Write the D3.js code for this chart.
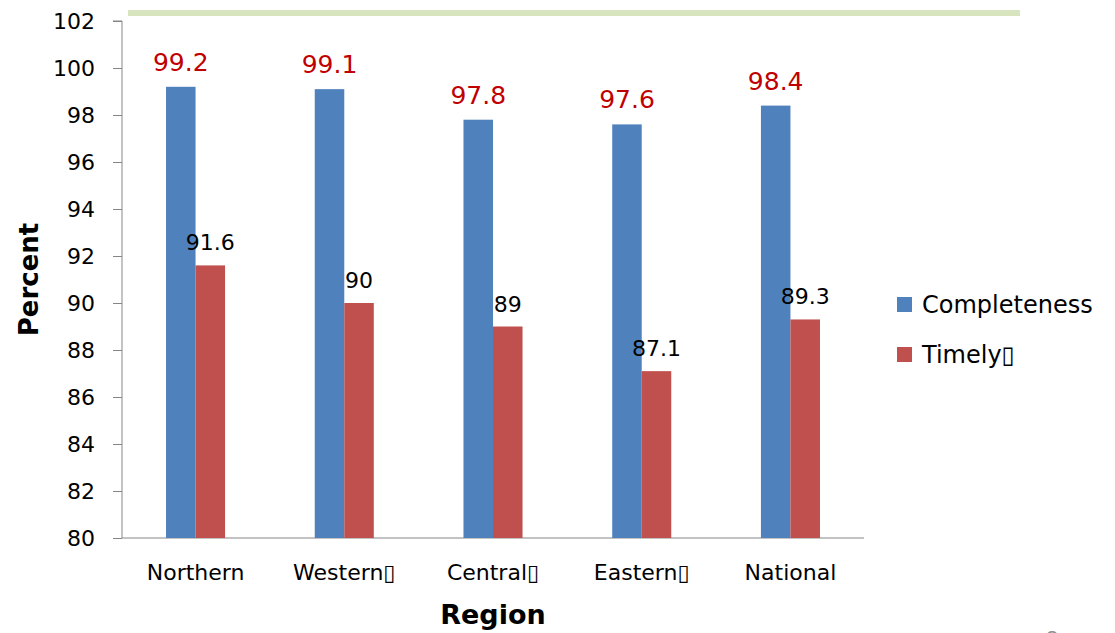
<!DOCTYPE html>
<html>
<head>
  <meta charset="utf-8">
  <title>Completeness and Timeliness by Region</title>
  <script src="https://d3js.org/d3.v7.min.js"></script>
  <style>
    body { margin: 0; background: #fff; }
    svg text { font-family: "DejaVu Sans", sans-serif; }
  </style>
</head>
<body>
<div id="chart"></div>
<script>
// Data
const regions = ["Northern", "Western\u25AF", "Central\u25AF", "Eastern\u25AF", "National"];
const completeness = [99.2, 99.1, 97.8, 97.6, 98.4];
const timely = [91.6, 90, 89, 87.1, 89.3];
const seriesNames = ["Completeness", "Timely\u25AF"];
const yTicks = [80, 82, 84, 86, 88, 90, 92, 94, 96, 98, 100, 102];

const W = 1115, H = 633;
const svg = d3.select("#chart").append("svg")
  .attr("width", W).attr("height", H);

// plot area
const plotLeft = 122, plotRight = 864, plotTop = 21, plotBottom = 538;

const x = d3.scaleBand().domain(regions).range([plotLeft, plotRight]).paddingInner(0.603).paddingOuter(0.296);
const y = d3.scaleLinear().domain([80, 102]).range([plotBottom, plotTop]);
const colors = ["#4f81bd", "#c0504d"];

// light green band at the top
svg.append("rect")
  .attr("x", 128).attr("y", 10).attr("width", 892).attr("height", 6)
  .attr("fill", "#d7e4bd");

// Y axis
const yAxis = svg.append("g")
  .attr("transform", `translate(${plotLeft},0)`)
  .call(d3.axisLeft(y).tickValues(yTicks).tickSize(9).tickPadding(18));
yAxis.select(".domain").attr("stroke", "#868686").attr("d", `M-9,${plotTop}H0V${plotBottom}`);
yAxis.selectAll(".tick line").attr("stroke", "#868686");
yAxis.selectAll(".tick text").attr("font-size", 22).attr("fill", "#000");

// X axis
const xAxis = svg.append("g")
  .attr("transform", `translate(0,${plotBottom})`)
  .call(d3.axisBottom(x).tickSize(0).tickPadding(26));
xAxis.select(".domain").attr("stroke", "#868686").attr("d", `M${plotLeft},0H${plotRight}`);
xAxis.selectAll(".tick text").attr("font-size", 22).attr("fill", "#000");

const bw = x.bandwidth() / 2;

// Completeness bars
svg.selectAll(".bar-c").data(regions).enter().append("rect")
  .attr("class", "bar-c")
  .attr("x", d => x(d))
  .attr("y", (d, i) => y(completeness[i]))
  .attr("width", bw)
  .attr("height", (d, i) => plotBottom - y(completeness[i]))
  .attr("fill", colors[0]);

// Timely bars
svg.selectAll(".bar-t").data(regions).enter().append("rect")
  .attr("class", "bar-t")
  .attr("x", d => x(d) + bw)
  .attr("y", (d, i) => y(timely[i]))
  .attr("width", bw)
  .attr("height", (d, i) => plotBottom - y(timely[i]))
  .attr("fill", colors[1]);

// value labels
svg.selectAll(".lab-c").data(regions).enter().append("text")
  .attr("x", d => x(d) + bw / 2)
  .attr("y", (d, i) => y(completeness[i]) - 16)
  .attr("text-anchor", "middle")
  .attr("font-size", 25).attr("fill", "#c00000")
  .text((d, i) => completeness[i]);

svg.selectAll(".lab-t").data(regions).enter().append("text")
  .attr("x", d => x(d) + bw * 1.5)
  .attr("y", (d, i) => y(timely[i]) - 15)
  .attr("text-anchor", "middle")
  .attr("font-size", 22).attr("fill", "#000")
  .text((d, i) => timely[i]);

// axis titles
svg.append("text")
  .attr("transform", `translate(38,${(plotTop + plotBottom) / 2}) rotate(-90)`)
  .attr("text-anchor", "middle")
  .attr("font-size", 26).attr("font-weight", "bold")
  .text("Percent");

svg.append("text")
  .attr("x", 493).attr("y", 624)
  .attr("text-anchor", "middle")
  .attr("font-size", 27).attr("font-weight", "bold")
  .text("Region");

// legend
const legend = svg.append("g");
seriesNames.forEach((s, i) => {
  const ly = 313 + i * 50;
  legend.append("rect")
    .attr("x", 897).attr("y", ly - 16).attr("width", 15).attr("height", 15)
    .attr("fill", colors[i]);
  legend.append("text")
    .attr("x", 922).attr("y", ly)
    .attr("font-size", 24).attr("fill", "#000")
    .text(s);
});

// slide number peeking in at the bottom edge
svg.append("text")
  .attr("x", 1052).attr("y", 645)
  .attr("text-anchor", "middle")
  .attr("font-size", 20).attr("fill", "#909090")
  .text("8");
</script>
</body>
</html>
